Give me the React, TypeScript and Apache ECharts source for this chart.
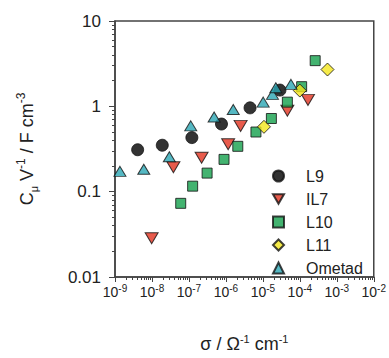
import React, { useEffect, useRef } from "react";
import * as echarts from "echarts";

const L9 = [[4.1e-9, 0.31], [1.9e-8, 0.35], [1.2e-7, 0.43], [7.6e-7, 0.62], [4.5e-6, 0.96], [2.9e-5, 1.55]];
const IL7 = [[9.8e-9, 0.0285], [3.8e-8, 0.193], [2.2e-7, 0.25], [1.15e-6, 0.36], [2.5e-6, 0.59], [4.6e-5, 0.89], [1.66e-4, 1.19]];
const L10 = [[6.0e-8, 0.073], [1.26e-7, 0.116], [3.1e-7, 0.165], [8.9e-7, 0.239], [2.1e-6, 0.34], [6.5e-6, 0.5], [1.7e-5, 0.72], [4.6e-5, 1.12], [1.12e-4, 1.7], [2.6e-4, 3.43]];
const L11 = [[1.07e-5, 0.575], [1.0e-4, 1.53], [5.6e-4, 2.7]];
const OMETAD = [[1.36e-9, 0.173], [6.0e-9, 0.183], [2.95e-8, 0.257], [1.12e-7, 0.59], [4.8e-7, 0.75], [1.58e-6, 0.92], [1.02e-5, 1.12], [1.82e-5, 1.38], [2.24e-5, 1.65], [5.75e-5, 1.81]];
const SERIES_NAMES = ["L9", "IL7", "L10", "L11", "Ometad"];

// minor tick positions (log10 of 2..9 × 10^n) for the exponent-space helper axes
const X_DECADES = [-9, -8, -7, -6, -5, -4, -3];
const Y_DECADES = [-2, -1, 0];
const MINOR_MULT = [2, 3, 4, 5, 6, 7, 8, 9];
const xMinor = X_DECADES.flatMap((d) => MINOR_MULT.map((m) => d + Math.log10(m)));
const yMinor = Y_DECADES.flatMap((d) => MINOR_MULT.map((m) => d + Math.log10(m)));

const TXT = "#222";
const FONT = "Liberation Sans, Arial";
const DOWN_TRI = "path://M0,0L20,0L10,17Z";

export default function App() {
  const ref = useRef<HTMLDivElement>(null);
  useEffect(() => {
    const chart = echarts.init(ref.current!, null, { renderer: "svg" });
    const border = { borderColor: "#111", borderWidth: 1 };
    const axisColor = "#444";
    chart.setOption({
      animation: false,
      backgroundColor: "#fff",
      grid: { left: 115, right: 15, top: 21, bottom: 75, show: true, borderColor: axisColor, borderWidth: 1.5, backgroundColor: "transparent" },
      legend: {
        orient: "vertical",
        left: 267,
        top: 163,
        itemGap: 7,
        itemWidth: 11,
        itemHeight: 11,
        data: SERIES_NAMES,
        textStyle: { fontFamily: FONT, fontSize: 16, color: TXT, padding: [0, 0, 0, 17] },
      },
      xAxis: [
        {
          type: "log",
          logBase: 10,
          min: 1e-9,
          max: 1e-2,
          name: "{t|σ / Ω}{s|-1}{t| cm}{s|-1}",
          nameLocation: "middle",
          nameGap: 56,
          nameTextStyle: {
            fontFamily: FONT,
            color: TXT,
            rich: {
              t: { fontSize: 18, color: TXT, lineHeight: 22, fontFamily: FONT },
              s: { fontSize: 11, color: TXT, verticalAlign: "top", lineHeight: 22, fontFamily: FONT },
            },
          },
          axisLine: { onZero: false, lineStyle: { color: axisColor, width: 1.5 } },
          axisTick: { show: true, length: 5, lineStyle: { color: axisColor } },
          splitLine: { show: false },
          axisLabel: {
            margin: 6,
            formatter: (v: number) => `{b|10}{s|${Math.round(Math.log10(v))}}`,
            rich: {
              b: { fontSize: 14, color: TXT, lineHeight: 18, fontFamily: FONT },
              s: { fontSize: 10, color: TXT, verticalAlign: "top", lineHeight: 18, fontFamily: FONT },
            },
          },
        },
        {
          type: "value",
          min: -9,
          max: -2,
          position: "bottom",
          axisLine: { show: false, onZero: false },
          axisLabel: { show: false },
          splitLine: { show: false },
          axisTick: { show: true, length: 3, customValues: xMinor, lineStyle: { color: axisColor } },
        },
      ],
      yAxis: [
        {
          type: "log",
          logBase: 10,
          min: 0.01,
          max: 10,
          name: "{t|C}{d|μ}{t| V}{s|-1}{t| / F cm}{s|-3}",
          nameLocation: "middle",
          nameRotate: 90,
          nameGap: 76,
          nameTextStyle: {
            fontFamily: FONT,
            color: TXT,
            rich: {
              t: { fontSize: 18, color: TXT, lineHeight: 24, fontFamily: FONT },
              s: { fontSize: 12, color: TXT, verticalAlign: "top", lineHeight: 24, fontFamily: FONT },
              d: { fontSize: 11, color: TXT, verticalAlign: "bottom", lineHeight: 24, fontFamily: FONT },
            },
          },
          axisLine: { onZero: false, lineStyle: { color: axisColor, width: 1.5 } },
          axisTick: { show: true, length: 6, lineStyle: { color: axisColor } },
          splitLine: { show: false },
          axisLabel: {
            margin: 14,
            fontSize: 17,
            color: TXT,
            fontFamily: FONT,
            formatter: (v: number) => String(Number(v.toPrecision(3))),
          },
        },
        {
          type: "value",
          min: -2,
          max: 1,
          position: "left",
          axisLine: { show: false, onZero: false },
          axisLabel: { show: false },
          splitLine: { show: false },
          axisTick: { show: true, length: 3, customValues: yMinor, lineStyle: { color: axisColor } },
        },
      ],
      series: [
        { name: "L9", type: "scatter", data: L9, symbol: "circle", symbolSize: 12, itemStyle: { color: "#000", ...border } },
        { name: "IL7", type: "scatter", data: IL7, symbol: DOWN_TRI, symbolSize: [13, 11], itemStyle: { color: "#e2321f", ...border } },
        { name: "L10", type: "scatter", data: L10, symbol: "rect", symbolSize: 10, itemStyle: { color: "#14a04c", ...border } },
        { name: "L11", type: "scatter", data: L11, symbol: "diamond", symbolSize: 13, itemStyle: { color: "#f4e61c", ...border } },
        { name: "Ometad", type: "scatter", data: OMETAD, symbol: "triangle", symbolSize: [12, 10], itemStyle: { color: "#2aa6b4", ...border } },
      ],
    });
    return () => chart.dispose();
  }, []);
  return <div ref={ref} style={{ width: 389, height: 358, position: "absolute", left: 0, top: 0 }} />;
}
